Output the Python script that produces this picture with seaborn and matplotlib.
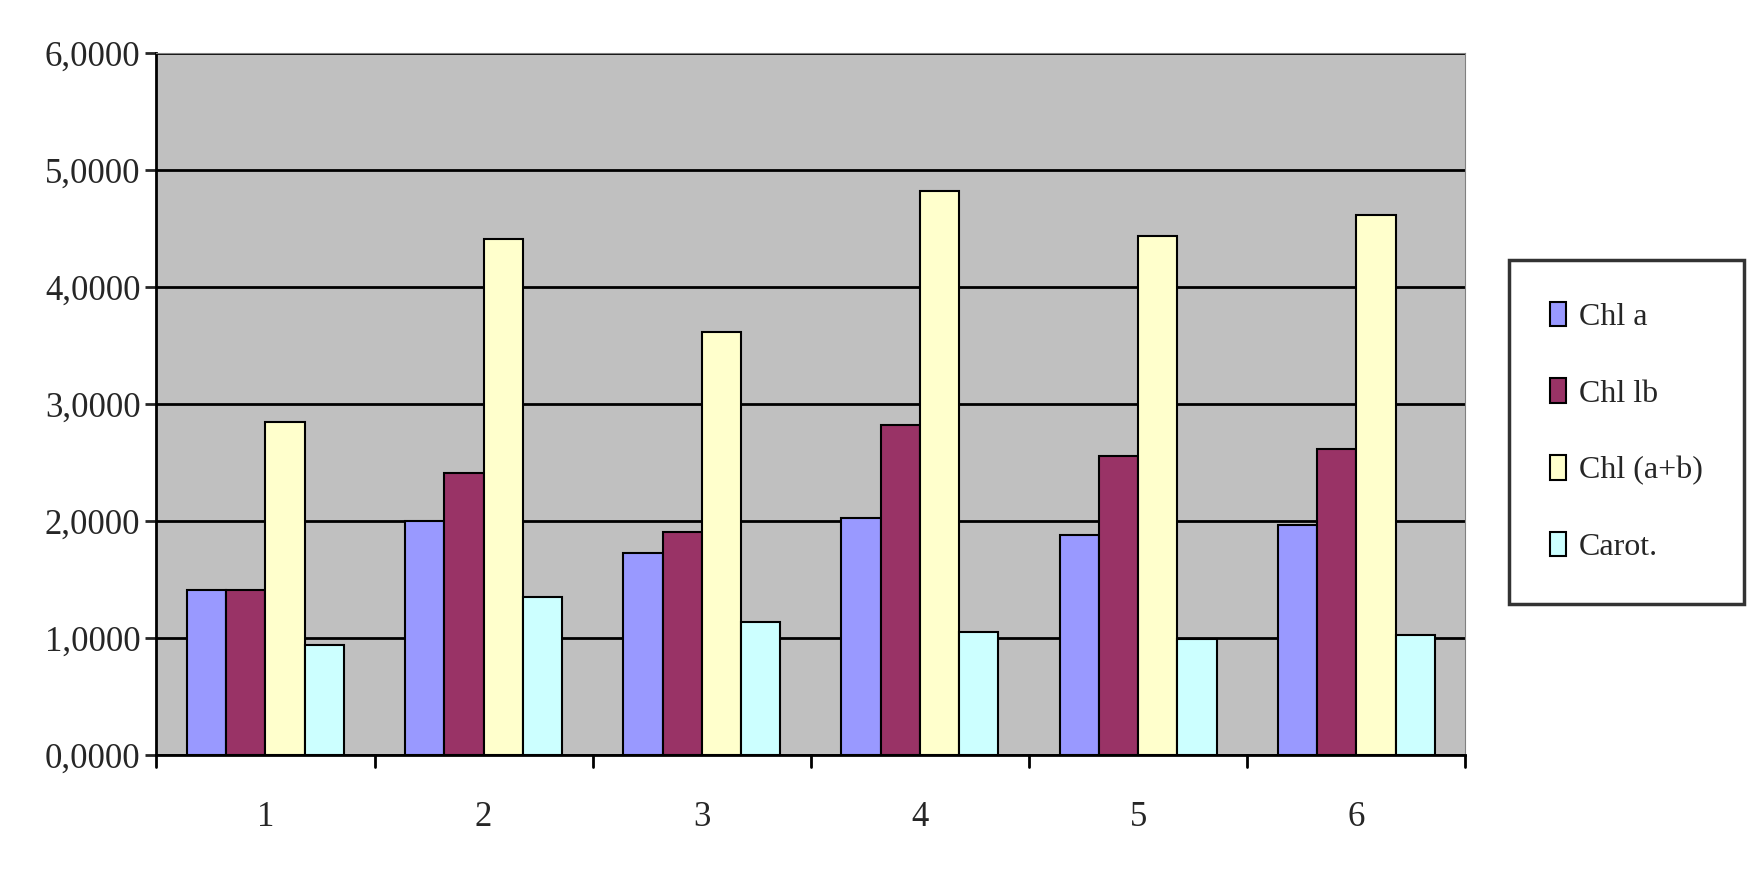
import seaborn as sns
import matplotlib.pyplot as plt
import pandas as pd
from matplotlib.ticker import FuncFormatter

groups = ['1', '2', '3', '4', '5', '6']
chl_a = [1.41, 2.00, 1.73, 2.03, 1.88, 1.97]
chl_b = [1.41, 2.41, 1.91, 2.82, 2.56, 2.62]
chl_ab = [2.85, 4.41, 3.62, 4.82, 4.44, 4.62]
carot = [0.94, 1.35, 1.14, 1.05, 0.99, 1.03]
series = ['Chl a', 'Chl lb', 'Chl (a+b)', 'Carot.']
colors = ['#9999FF', '#993366', '#FFFFCC', '#CCFFFF']

rows = []
for name, vals in zip(series, [chl_a, chl_b, chl_ab, carot]):
    for g, v in zip(groups, vals):
        rows.append({'group': g, 'series': name, 'value': v})
df = pd.DataFrame(rows)

sns.set_style('white')
plt.rcParams['font.family'] = ['Liberation Serif', 'DejaVu Serif']

fig = plt.figure(figsize=(17.57, 8.72), dpi=100)
ax = fig.add_axes([0.089, 0.134, 0.745, 0.805])
ax.set_facecolor('#C0C0C0')
sns.barplot(data=df, x='group', y='value', hue='series', palette=colors, saturation=1,
            edgecolor='black', linewidth=1.5, width=0.72, ax=ax, zorder=3)

ax.set_ylim(0, 6)
ax.set_yticks(range(7))
ax.yaxis.set_major_formatter(FuncFormatter(lambda v, p: f'{v:.4f}'.replace('.', ',')))
ax.grid(axis='y', color='black', linewidth=2, zorder=1)
ax.set_axisbelow(True)
ax.set_xlim(-0.5, 5.5)
ax.set_xlabel('')
ax.set_ylabel('')
for s in ['top', 'right']:
    ax.spines[s].set_color('#808080')
for s in ['left', 'bottom']:
    ax.spines[s].set_color('black')
    ax.spines[s].set_linewidth(2)
ax.tick_params(axis='both', labelsize=25, direction='out', length=8, width=2, left=True, bottom=False)
ax.tick_params(axis='x', pad=25)
for x in [i - 0.5 for i in range(7)]:
    ax.plot([x, x], [0, -0.1], color='black', lw=2, clip_on=False)

leg = ax.legend(loc='upper left', bbox_to_anchor=(1.033, 0.705), fontsize=23, frameon=True,
                fancybox=False, edgecolor='black', handlelength=0.5, handleheight=0.8,
                handletextpad=0.4, labelspacing=1.45, borderpad=1.3, borderaxespad=0)
leg.get_frame().set_linewidth(2.5)
for h in leg.legend_handles:
    h.set_edgecolor('black')
    h.set_linewidth(1.5)

fig.savefig('out.png', dpi=100)
